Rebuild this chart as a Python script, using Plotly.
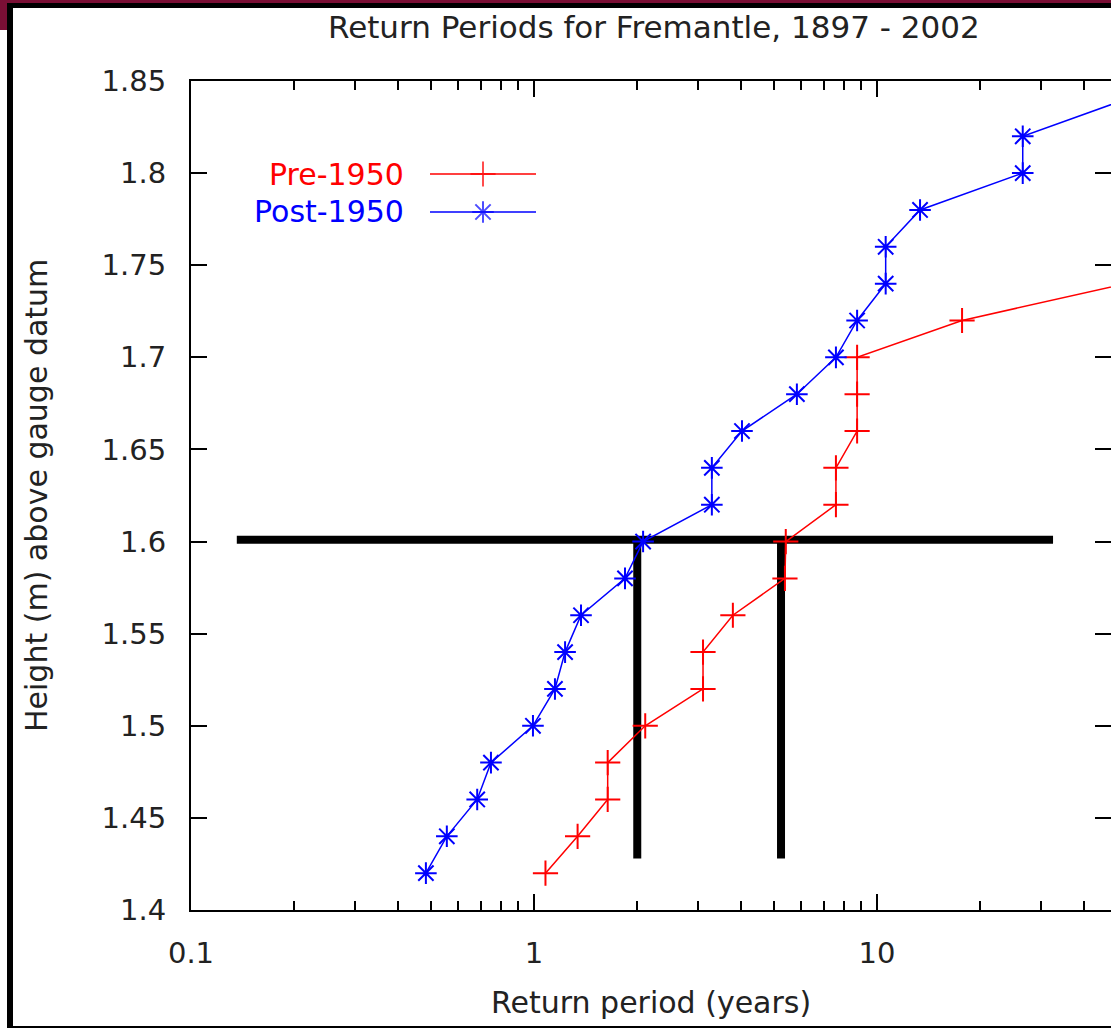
import plotly.graph_objects as go

# ---- data -------------------------------------------------------------
pre_period = [1.08, 1.34, 1.64, 1.64, 2.11, 3.11, 3.11, 3.80, 5.39, 5.42,
              7.59, 7.59, 8.75, 8.75, 8.75, 17.7, 53.0]
pre_height = [1.42, 1.44, 1.46, 1.48, 1.50, 1.52, 1.54, 1.56, 1.58, 1.60,
              1.62, 1.64, 1.66, 1.68, 1.70, 1.72, 1.74]

post_period = [0.484, 0.557, 0.683, 0.749, 0.993, 1.151, 1.232, 1.371, 1.842,
               2.08, 3.30, 3.30, 4.04, 5.84, 7.59, 8.75, 10.6, 10.6, 13.35,
               26.6, 26.6, 53.0]
post_height = [1.42, 1.44, 1.46, 1.48, 1.50, 1.52, 1.54, 1.56, 1.58, 1.60,
               1.62, 1.64, 1.66, 1.68, 1.70, 1.72, 1.74, 1.76, 1.78, 1.80,
               1.82, 1.84]

level_height = 1.601
level_span = [0.136, 32.6]
level_periods = [2.0, 5.25]
level_floor = 1.428

x_tick_vals = [0.1, 1, 10]
x_tick_text = ["0.1", "1", "10"]
y_tick_vals = [1.4, 1.45, 1.5, 1.55, 1.6, 1.65, 1.7, 1.75, 1.8, 1.85]
y_tick_text = ["1.4", "1.45", "1.5", "1.55", "1.6", "1.65", "1.7", "1.75", "1.8", "1.85"]

series_names = ["Pre-1950", "Post-1950"]
series_colors = ["#ff0000", "#0000ff"]

# ---- page geometry ----------------------------------------------------
W, H = 1111, 1028
L, R, T, B = 191, 1111, 81, 910
FONT = "DejaVu Sans"
TXT = "#222222"


def px(xp):
    return (xp - L) / (R - L)


def py(yp):
    return (B - yp) / (B - T)


fig = go.Figure()

# thick reference level and its drop lines
fig.add_trace(go.Scatter(x=level_span, y=[level_height, level_height], mode="lines",
                         line=dict(color="black", width=8), hoverinfo="skip",
                         showlegend=False))
for p in level_periods:
    fig.add_trace(go.Scatter(x=[p, p], y=[level_height, level_floor], mode="lines",
                             line=dict(color="black", width=8), hoverinfo="skip",
                             showlegend=False))

fig.add_trace(go.Scatter(
    x=pre_period, y=pre_height, mode="lines+markers", name=series_names[0],
    line=dict(color=series_colors[0], width=1.5),
    marker=dict(symbol="cross-thin-open", size=18,
                line=dict(color=series_colors[0], width=2)),
    showlegend=False))
fig.add_trace(go.Scatter(
    x=post_period, y=post_height, mode="lines+markers", name=series_names[1],
    line=dict(color=series_colors[1], width=1.5),
    marker=dict(symbol="asterisk-open", size=18,
                line=dict(color=series_colors[1], width=2)),
    showlegend=False))

# legend keys drawn on a hidden overlay in paper units
key_x = [px(430), px(483), px(536)]
key_rows = [py(174), py(212)]
key_symbols = ["cross-thin-open", "asterisk-open"]
for row, sym, col in zip(key_rows, key_symbols, series_colors):
    fig.add_trace(go.Scatter(
        x=key_x, y=[row] * 3, xaxis="x2", yaxis="y3", mode="lines+markers",
        line=dict(color=col, width=1.5),
        marker=dict(symbol=sym, size=[0, 18, 0], line=dict(color=col, width=2)),
        hoverinfo="skip", showlegend=False))

axis_common = dict(showgrid=False, zeroline=False, linecolor="black", linewidth=2,
                   tickcolor="black", tickwidth=1.5, ticks="inside", ticklen=16,
                   tickfont=dict(family=FONT, size=29, color=TXT))

fig.update_layout(
    width=W, height=H,
    margin=dict(l=L, r=W - R, t=T, b=H - B, pad=0),
    paper_bgcolor="white", plot_bgcolor="white",
    showlegend=False,
    xaxis=dict(type="log", range=[-1, 1.6822], tickvals=x_tick_vals,
               ticktext=x_tick_text, showline=True, mirror="ticks",
               ticklabelstandoff=16,
               minor=dict(ticks="inside", ticklen=9, tickcolor="black",
                          tickwidth=1.5, dtick="D1", showgrid=False),
               **axis_common),
    yaxis=dict(range=[1.4, 1.85], tickvals=y_tick_vals, ticktext=y_tick_text,
               showline=True, ticklabelstandoff=17, **axis_common),
    yaxis2=dict(range=[1.4, 1.85], overlaying="y", side="right", anchor="x",
                tickvals=y_tick_vals, showticklabels=False, showline=False,
                showgrid=False, zeroline=False, ticks="inside", ticklen=16,
                tickcolor="black", tickwidth=1.5),
    xaxis2=dict(range=[0, 1], overlaying="x", visible=False),
    yaxis3=dict(range=[0, 1], overlaying="y", visible=False),
)

# dummy point so the right-hand tick axis is laid out
fig.add_trace(go.Scatter(x=[1], y=[1.5], yaxis="y2", mode="markers",
                         marker=dict(size=0, opacity=0), hoverinfo="skip",
                         showlegend=False))

annotations = [
    dict(text="Return Periods for Fremantle, 1897 - 2002", x=px(654), y=py(27),
         font=dict(size=31)),
    dict(text="Return period (years)", x=px(651), y=py(1002), font=dict(size=30)),
    dict(text="Height (m) above gauge datum", x=px(37), y=py(496), textangle=-90,
         font=dict(size=30)),
    dict(text=series_names[0], x=px(406), y=py(174), xanchor="right",
         font=dict(size=30, color=series_colors[0])),
    dict(text=series_names[1], x=px(406), y=py(212), xanchor="right",
         font=dict(size=30, color=series_colors[1])),
]
for a in annotations:
    a.setdefault("xanchor", "center")
    a["font"] = dict(family=FONT, color=a["font"].get("color", TXT), size=a["font"]["size"])
    fig.add_annotation(xref="paper", yref="paper", yanchor="middle", showarrow=False, **a)

# slide frame around the chart
frame = [
    dict(x0=0, x1=W, y0=0, y1=3, color="#7a0f35"),
    dict(x0=0, x1=7, y0=0, y1=30, color="#7a0f35"),
    dict(x0=7, x1=W, y0=3, y1=8, color="black"),
    dict(x0=7, x1=13, y0=3, y1=H, color="black"),
    dict(x0=7, x1=W, y0=1026, y1=H, color="black"),
]
for f in frame:
    fig.add_shape(type="rect", xref="paper", yref="paper",
                  x0=px(f["x0"]), x1=px(f["x1"]), y0=py(f["y1"]), y1=py(f["y0"]),
                  fillcolor=f["color"], line=dict(width=0), layer="above")

fig.write_html("out.html")
